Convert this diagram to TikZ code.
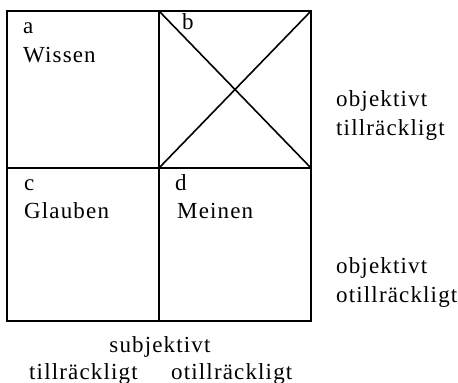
\documentclass[tikz,border=0pt]{standalone}
\usepackage{fontspec}
\setmainfont{Liberation Serif}[LetterSpace=5]
\usetikzlibrary{positioning}

\begin{document}
\begin{tikzpicture}[x=1pt, y=-1pt, font=\fontsize{23}{29}\selectfont,
  cell/.style={draw, line width=1.6pt, inner sep=0pt, outer sep=0pt, minimum width=152pt},
  upper/.style={cell, minimum height=157pt},
  lower/.style={cell, minimum height=153pt},
  tag/.style={anchor=base west, inner sep=0pt}]
\useasboundingbox (0,0) rectangle (458,383);
% the four fields
\node[upper, anchor=north west] (cellA) at (7,11) {};
\node[upper, right=0pt of cellA] (cellB) {};
\node[lower, below=0pt of cellA] (cellC) {};
\node[lower, right=0pt of cellC] (cellD) {};
\draw[line width=1.6pt] (cellB.north west) -- (cellB.south east)
  (cellB.north east) -- (cellB.south west);
% field labels
\node[tag] (la) at ([shift={(16,22)}]cellA.north west) {a};
\node[tag] (wissen) at ([shift={(16,51)}]cellA.north west) {Wissen};
\node[tag] (lb) at ([shift={(23,18)}]cellB.north west) {b};
\node[tag] (lc) at ([shift={(17,22)}]cellC.north west) {c};
\node[tag] (glauben) at ([shift={(17,50)}]cellC.north west) {Glauben};
\node[tag] (ld) at ([shift={(16,22)}]cellD.north west) {d};
\node[tag] (meinen) at ([shift={(18,50)}]cellD.north west) {Meinen};
% objective side
\node[tag] (obj1) at (336,106) {objektivt};
\node[tag] (till1) at (336,135) {tillräckligt};
\node[tag] (obj2) at (336,273) {objektivt};
\node[tag] (otill1) at (336,302) {otillräckligt};
% subjective side
\node[anchor=base, inner sep=0pt] (subj) at (160,352) {subjektivt};
\node[tag] (till2) at (29,379) {tillräckligt};
\node[tag] (otill2) at (171,379) {otillräckligt};
\end{tikzpicture}
\end{document}
